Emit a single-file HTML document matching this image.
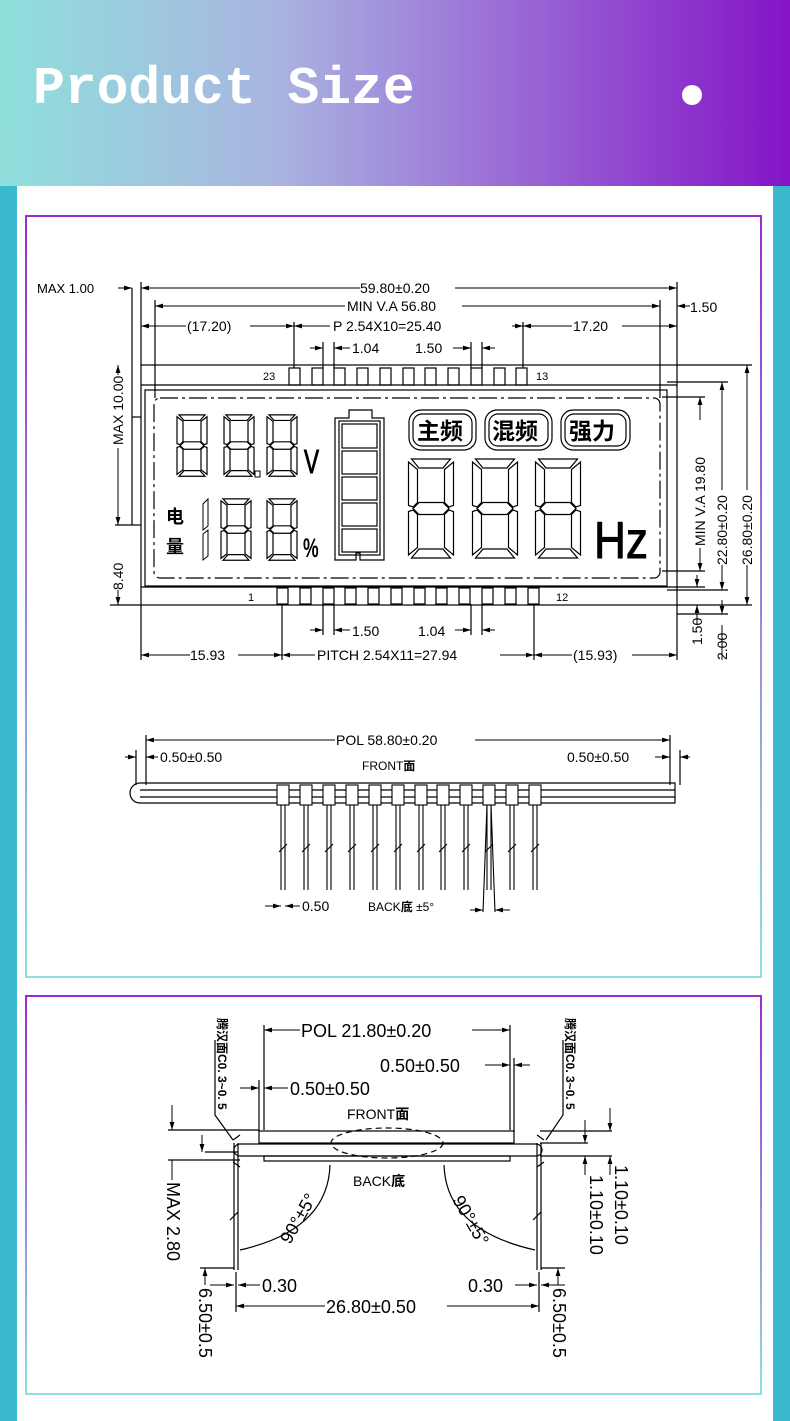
<!DOCTYPE html>
<html><head><meta charset="utf-8"><style>
html,body{margin:0;padding:0;}
body{width:790px;height:1421px;position:relative;background:#fff;overflow:hidden;font-family:"Liberation Sans","Noto Sans CJK SC",sans-serif;}
.hdr{position:absolute;left:0;top:0;width:790px;height:186px;background:linear-gradient(90deg,#8fe0dc 0%,#a9b4e0 35%,#9a6ad6 65%,#8414c6 100%);}
.title{position:absolute;left:33px;top:58px;font-family:"Liberation Mono",monospace;font-weight:bold;font-size:53px;color:#fff;line-height:1.2;}
.dot{position:absolute;left:682px;top:85px;width:20px;height:20px;border-radius:50%;background:#fff;}
.sb{position:absolute;top:186px;width:17px;height:1235px;background:#3ab8cc;}
.panel{position:absolute;left:25px;width:737px;box-sizing:border-box;border:2px solid;border-image:linear-gradient(180deg,#9a2ad2,#8fe0dc) 1;}
svg{position:absolute;left:0;top:0;}
text{font-family:"Liberation Sans","Noto Sans CJK SC",sans-serif;fill:#000;}
</style></head><body>
<div class="hdr"></div>
<div class="title">Product Size</div>
<div class="dot"></div>
<div class="sb" style="left:0"></div>
<div class="sb" style="left:773px"></div>
<div class="panel" style="top:215px;height:763px"></div>
<div class="panel" style="top:995px;height:400px"></div>
<svg width="790" height="1421" viewBox="0 0 790 1421" font-size="14">
<defs>
<g id="dg" fill="none" stroke="#000" stroke-width="1.2">
<polygon vector-effect="non-scaling-stroke" points="7,2 33,2 28,8 12,8"/>
<polygon vector-effect="non-scaling-stroke" points="7,68 33,68 28,62 12,62"/>
<polygon vector-effect="non-scaling-stroke" points="8,35 12,31 28,31 32,35 28,39 12,39"/>
<polygon vector-effect="non-scaling-stroke" points="35,4 35,33 32,34 29,31 29,9"/>
<polygon vector-effect="non-scaling-stroke" points="35,37 35,66 29,61 29,39 32,36"/>
<polygon vector-effect="non-scaling-stroke" points="5,4 11,9 11,31 8,34 5,33"/>
<polygon vector-effect="non-scaling-stroke" points="5,37 8,36 11,39 11,61 5,66"/>
</g>
<marker id="ar" viewBox="0 0 10 6" refX="10" refY="3" markerWidth="8" markerHeight="5" orient="auto-start-reverse"><path d="M0,0 L10,3 L0,6z" fill="#000"/></marker>
</defs>
<g stroke="#000" stroke-width="1.2" fill="none">
<rect x="141" y="365" width="536" height="240"/>
<line x1="141" y1="385" x2="677" y2="385"/>
<line x1="141" y1="587" x2="677" y2="587"/>
<rect x="145" y="390" width="522" height="196"/>
<rect x="154" y="398" width="506" height="180" rx="6" stroke-dasharray="18,4,3,4"/>
<g>
<rect x="289" y="368" width="11" height="17"/><rect x="312" y="368" width="11" height="17"/><rect x="334" y="368" width="11" height="17"/><rect x="357" y="368" width="11" height="17"/><rect x="380" y="368" width="11" height="17"/><rect x="403" y="368" width="11" height="17"/><rect x="425" y="368" width="11" height="17"/><rect x="448" y="368" width="11" height="17"/><rect x="471" y="368" width="11" height="17"/><rect x="494" y="368" width="11" height="17"/><rect x="516" y="368" width="11" height="17"/>
</g>
<g>
<rect x="277" y="588" width="11" height="16"/><rect x="300" y="588" width="11" height="16"/><rect x="323" y="588" width="11" height="16"/><rect x="345" y="588" width="11" height="16"/><rect x="368" y="588" width="11" height="16"/><rect x="391" y="588" width="11" height="16"/><rect x="414" y="588" width="11" height="16"/><rect x="436" y="588" width="11" height="16"/><rect x="459" y="588" width="11" height="16"/><rect x="482" y="588" width="11" height="16"/><rect x="505" y="588" width="11" height="16"/><rect x="528" y="588" width="11" height="16"/>
</g>
<line x1="141" y1="282" x2="141" y2="365"/><line x1="677" y1="282" x2="677" y2="365"/>
<line x1="155" y1="300" x2="155" y2="398"/><line x1="660" y1="300" x2="660" y2="398"/>
<line x1="294" y1="322" x2="294" y2="368"/><line x1="523" y1="322" x2="523" y2="368"/>
<line x1="323" y1="342" x2="323" y2="368"/><line x1="334" y1="342" x2="334" y2="368"/>
<line x1="471" y1="342" x2="471" y2="368"/><line x1="482" y1="342" x2="482" y2="368"/>
<line x1="132" y1="288" x2="132" y2="525"/><line x1="132" y1="525" x2="141" y2="525"/><line x1="132" y1="417" x2="141" y2="417"/>
<line x1="115" y1="525" x2="132" y2="525"/><line x1="110" y1="605" x2="141" y2="605"/>
<line x1="662" y1="397" x2="705" y2="397"/><line x1="662" y1="571" x2="705" y2="571"/>
<line x1="667" y1="382" x2="728" y2="382"/><line x1="667" y1="590" x2="728" y2="590"/>
<line x1="677" y1="365" x2="752" y2="365"/><line x1="677" y1="605" x2="752" y2="605"/>
<line x1="141" y1="605" x2="141" y2="660"/><line x1="677" y1="605" x2="677" y2="660"/>
<line x1="282" y1="604" x2="282" y2="660"/><line x1="534" y1="604" x2="534" y2="660"/>
<line x1="323" y1="604" x2="323" y2="635"/><line x1="334" y1="604" x2="334" y2="635"/>
<line x1="471" y1="604" x2="471" y2="635"/><line x1="482" y1="604" x2="482" y2="635"/>
<line x1="677" y1="587" x2="705" y2="587"/><line x1="677" y1="614" x2="728" y2="614"/>
</g>
<g stroke="#000" stroke-width="1">
<line x1="141" y1="288" x2="360" y2="288" marker-start="url(#ar)"/><line x1="455" y1="288" x2="677" y2="288" marker-end="url(#ar)"/>
<line x1="155" y1="306" x2="345" y2="306" marker-start="url(#ar)"/><line x1="462" y1="306" x2="660" y2="306" marker-end="url(#ar)"/>
<line x1="141" y1="326" x2="186" y2="326" marker-start="url(#ar)"/><line x1="250" y1="326" x2="294" y2="326" marker-end="url(#ar)"/>
<line x1="294" y1="326" x2="330" y2="326" marker-start="url(#ar)"/><line x1="512" y1="326" x2="523" y2="326" marker-end="url(#ar)"/>
<line x1="523" y1="326" x2="572" y2="326" marker-start="url(#ar)"/><line x1="622" y1="326" x2="677" y2="326" marker-end="url(#ar)"/>
<line x1="310" y1="348" x2="323" y2="348" marker-end="url(#ar)"/><line x1="334" y1="348" x2="350" y2="348" marker-start="url(#ar)"/>
<line x1="453" y1="348" x2="471" y2="348" marker-end="url(#ar)"/><line x1="482" y1="348" x2="495" y2="348" marker-start="url(#ar)"/>
<line x1="118" y1="288" x2="132" y2="288" marker-end="url(#ar)"/>
<line x1="690" y1="306" x2="677" y2="306" marker-end="url(#ar)"/>
<line x1="118" y1="365" x2="118" y2="375" marker-start="url(#ar)"/><line x1="118" y1="448" x2="118" y2="525" marker-end="url(#ar)"/><line x1="118" y1="590" x2="118" y2="605" marker-end="url(#ar)"/>
<line x1="700" y1="397" x2="700" y2="420" marker-start="url(#ar)"/><line x1="700" y1="548" x2="700" y2="571" marker-end="url(#ar)"/>
<line x1="722" y1="382" x2="722" y2="490" marker-start="url(#ar)"/><line x1="722" y1="565" x2="722" y2="590" marker-end="url(#ar)"/>
<line x1="747" y1="365" x2="747" y2="490" marker-start="url(#ar)"/><line x1="747" y1="565" x2="747" y2="605" marker-end="url(#ar)"/>
<line x1="697" y1="575" x2="697" y2="587" marker-end="url(#ar)"/><line x1="697" y1="625" x2="697" y2="605" marker-end="url(#ar)"/>
<line x1="722" y1="600" x2="722" y2="614" marker-end="url(#ar)"/><line x1="722" y1="625" x2="722" y2="660"/>
<line x1="310" y1="630" x2="323" y2="630" marker-end="url(#ar)"/><line x1="334" y1="630" x2="350" y2="630" marker-start="url(#ar)"/>
<line x1="455" y1="630" x2="471" y2="630" marker-end="url(#ar)"/><line x1="482" y1="630" x2="495" y2="630" marker-start="url(#ar)"/>
<line x1="141" y1="655" x2="190" y2="655" marker-start="url(#ar)"/><line x1="238" y1="655" x2="282" y2="655" marker-end="url(#ar)"/>
<line x1="282" y1="655" x2="315" y2="655" marker-start="url(#ar)"/><line x1="500" y1="655" x2="534" y2="655" marker-end="url(#ar)"/>
<line x1="534" y1="655" x2="572" y2="655" marker-start="url(#ar)"/><line x1="632" y1="655" x2="677" y2="655" marker-end="url(#ar)"/>
</g>
<g>
<text x="37" y="293" font-size="13">MAX  1.00</text>
<text x="360" y="293">59.80±0.20</text>
<text x="347" y="311">MIN  V.A  56.80</text>
<text x="690" y="312">1.50</text>
<text x="187" y="331">(17.20)</text>
<text x="333" y="331">P  2.54X10=25.40</text>
<text x="573" y="331">17.20</text>
<text x="352" y="353">1.04</text>
<text x="415" y="353">1.50</text>
<text x="263" y="380" font-size="11">23</text><text x="536" y="380" font-size="11">13</text>
<text x="248" y="601" font-size="11">1</text><text x="556" y="601" font-size="11">12</text>
<text x="352" y="636">1.50</text><text x="418" y="636">1.04</text>
<text x="190" y="660">15.93</text><text x="317" y="660">PITCH  2.54X11=27.94</text><text x="573" y="660">(15.93)</text>
<text transform="translate(123,445) rotate(-90)">MAX  10.00</text>
<text transform="translate(123,590) rotate(-90)">8.40</text>
<text transform="translate(705,546) rotate(-90)">MIN  V.A  19.80</text>
<text transform="translate(727,565) rotate(-90)">22.80±0.20</text>
<text transform="translate(752,565) rotate(-90)">26.80±0.20</text>
<text transform="translate(702,645) rotate(-90)">1.50</text>
<text transform="translate(727,660) rotate(-90)">2.00</text>
</g>
<use href="#dg" transform="translate(172,413) scale(1,0.93)"/>
<use href="#dg" transform="translate(219,413) scale(1,0.93)"/>
<use href="#dg" transform="translate(262,413) scale(1,0.93)"/>
<rect x="255" y="471" width="5" height="6" fill="none" stroke="#000"/>
<text transform="translate(304,473) scale(0.75,1.1)" font-size="30" fill="#fff" stroke="#000" stroke-width="0.9">V</text>
<use href="#dg" transform="translate(216,497) scale(1,0.93)"/>
<use href="#dg" transform="translate(262,497) scale(1,0.93)"/>
<polygon points="203,504 208,499 208,526 203,530" fill="none" stroke="#000"/>
<polygon points="203,534 208,530 208,556 203,560" fill="none" stroke="#000"/>
<text x="166" y="523" font-size="18" font-weight="bold">电</text>
<text x="166" y="553" font-size="18" font-weight="bold">量</text>
<text transform="translate(303,557) scale(0.8,1.2)" font-size="22" font-weight="bold">%</text>
<g fill="none" stroke="#000" stroke-width="1.2">
<path d="M335,560 V418 H349 V410 H372 V418 H384 V560 H360 V553 H356 V560 Z"/>
<rect x="339" y="421" width="41" height="134"/>
<rect x="342" y="424" width="35" height="24"/><rect x="342" y="451" width="35" height="23"/><rect x="342" y="477" width="35" height="23"/><rect x="342" y="503" width="35" height="23"/><rect x="342" y="529" width="35" height="23"/>
<rect x="409" y="410" width="67" height="40" rx="12"/><rect x="413" y="414" width="59" height="32" rx="9"/>
<rect x="485" y="410" width="67" height="40" rx="12"/><rect x="489" y="414" width="59" height="32" rx="9"/>
<rect x="561" y="410" width="69" height="40" rx="12"/><rect x="565" y="414" width="61" height="32" rx="9"/>
</g>
<text x="417" y="439" font-size="23" font-weight="bold">主频</text>
<text x="492" y="439" font-size="23" font-weight="bold">混频</text>
<text x="569" y="439" font-size="23" font-weight="bold">强力</text>
<use href="#dg" transform="translate(401,456) scale(1.5,1.5)"/>
<use href="#dg" transform="translate(465,456) scale(1.5,1.5)"/>
<use href="#dg" transform="translate(528,456) scale(1.5,1.5)"/>
<text transform="translate(594,558) scale(0.85,1)" font-size="52" fill="#fff" stroke="#000" stroke-width="1">Hz</text>

<g stroke="#000" stroke-width="1.2" fill="none">
<line x1="146" y1="735" x2="146" y2="785"/><line x1="670" y1="735" x2="670" y2="785"/>
<line x1="136" y1="750" x2="136" y2="785"/><line x1="680" y1="750" x2="680" y2="785"/>
<path d="M140,783 H675 V803 H140 A10,10 0 0 1 140,783 Z"/>
<line x1="140" y1="790" x2="675" y2="790"/><line x1="140" y1="797" x2="675" y2="797"/>
</g>
<g stroke="#000" stroke-width="1.1" fill="#fff">
<g id="sp"><rect x="277" y="785" width="12" height="20"/><line x1="281" y1="805" x2="281" y2="890"/><line x1="285" y1="805" x2="285" y2="890"/><line x1="279" y1="852" x2="287" y2="844"/></g>
<use href="#sp" x="23"/><use href="#sp" x="46"/><use href="#sp" x="69"/><use href="#sp" x="92"/><use href="#sp" x="115"/><use href="#sp" x="138"/><use href="#sp" x="160"/><use href="#sp" x="183"/><use href="#sp" x="206"/><use href="#sp" x="229"/><use href="#sp" x="252"/>
<line x1="487" y1="805" x2="483" y2="912"/><line x1="491" y1="805" x2="495" y2="912"/>
</g>
<g stroke="#000" stroke-width="1">
<line x1="146" y1="740" x2="335" y2="740" marker-start="url(#ar)"/><line x1="475" y1="740" x2="670" y2="740" marker-end="url(#ar)"/>
<line x1="125" y1="757" x2="136" y2="757" marker-end="url(#ar)"/><line x1="158" y1="757" x2="146" y2="757" marker-end="url(#ar)"/>
<line x1="655" y1="757" x2="670" y2="757" marker-end="url(#ar)"/><line x1="690" y1="757" x2="680" y2="757" marker-end="url(#ar)"/>
<line x1="265" y1="906" x2="281" y2="906" marker-end="url(#ar)"/><line x1="300" y1="906" x2="285" y2="906" marker-end="url(#ar)"/>
<line x1="470" y1="910" x2="483" y2="910" marker-end="url(#ar)"/><line x1="510" y1="910" x2="495" y2="910" marker-end="url(#ar)"/>
</g>
<text x="336" y="745">POL  58.80±0.20</text>
<text x="160" y="762">0.50±0.50</text>
<text x="567" y="762">0.50±0.50</text>
<text x="362" y="770" font-size="12">FRONT<tspan font-weight="bold">面</tspan></text>
<text x="302" y="911">0.50</text>
<text x="368" y="911" font-size="12">BACK<tspan font-weight="bold">底</tspan>  ±5°</text>

<g stroke="#000" stroke-width="1.2" fill="none">
<line x1="264" y1="1025" x2="264" y2="1130"/><line x1="510" y1="1025" x2="510" y2="1130"/>
<line x1="259" y1="1080" x2="259" y2="1132"/><line x1="514" y1="1058" x2="514" y2="1132"/>
<rect x="259" y="1131" width="255" height="12"/>
<path d="M240,1144 H536 A6,6 0 0 1 536,1156 H240 A6,6 0 0 1 240,1144 Z"/>
<rect x="264" y="1156" width="246" height="5"/>
<ellipse cx="387" cy="1143" rx="56" ry="15" stroke-dasharray="6,4"/>
<line x1="234" y1="1143" x2="234" y2="1270"/><line x1="238" y1="1143" x2="238" y2="1270"/>
<line x1="537" y1="1143" x2="537" y2="1270"/><line x1="541" y1="1143" x2="541" y2="1270"/>
<path d="M233,1140 l7,-5 M233,1162 l7,5 M544,1140 l-7,-5 M544,1162 l-7,5"/>
<path d="M215,1040 V1115 L233,1140 M563,1040 V1115 L546,1140"/>
<path d="M168,1130 H259 M205,1152 H238 M168,1160 H240 M540,1131 H612 M540,1143 H588 M540,1156 H612"/>
<path d="M330,1165 Q328,1230 240,1250 M444,1165 Q446,1230 535,1250"/>
<line x1="230" y1="1220" x2="238" y2="1212"/><line x1="533" y1="1220" x2="541" y2="1212"/>
<line x1="200" y1="1268" x2="234" y2="1268"/><line x1="541" y1="1268" x2="565" y2="1268"/>
<line x1="236" y1="1272" x2="236" y2="1312"/><line x1="539" y1="1272" x2="539" y2="1312"/>
</g>
<g stroke="#000" stroke-width="1">
<line x1="264" y1="1030" x2="300" y2="1030" marker-start="url(#ar)"/><line x1="472" y1="1030" x2="510" y2="1030" marker-end="url(#ar)"/>
<line x1="485" y1="1065" x2="510" y2="1065" marker-end="url(#ar)"/><line x1="530" y1="1065" x2="514" y2="1065" marker-end="url(#ar)"/>
<line x1="240" y1="1088" x2="259" y2="1088" marker-end="url(#ar)"/><line x1="288" y1="1088" x2="264" y2="1088" marker-end="url(#ar)"/>
<line x1="172" y1="1105" x2="172" y2="1130" marker-end="url(#ar)"/><line x1="202" y1="1135" x2="202" y2="1152" marker-end="url(#ar)"/>
<line x1="172" y1="1160" x2="172" y2="1180"/>
<line x1="610" y1="1108" x2="610" y2="1131" marker-end="url(#ar)"/><line x1="610" y1="1175" x2="610" y2="1156" marker-end="url(#ar)"/>
<line x1="585" y1="1120" x2="585" y2="1143" marker-end="url(#ar)"/><line x1="585" y1="1175" x2="585" y2="1156" marker-end="url(#ar)"/>
<line x1="205" y1="1285" x2="205" y2="1268" marker-end="url(#ar)"/><line x1="558" y1="1285" x2="558" y2="1268" marker-end="url(#ar)"/>
<line x1="210" y1="1285" x2="234" y2="1285" marker-end="url(#ar)"/><line x1="260" y1="1285" x2="238" y2="1285" marker-end="url(#ar)"/>
<line x1="515" y1="1285" x2="537" y2="1285" marker-end="url(#ar)"/><line x1="565" y1="1285" x2="541" y2="1285" marker-end="url(#ar)"/>
<line x1="236" y1="1306" x2="325" y2="1306" marker-start="url(#ar)"/><line x1="447" y1="1306" x2="539" y2="1306" marker-end="url(#ar)"/>
</g>
<text x="301" y="1037" font-size="18">POL  21.80±0.20</text>
<text x="380" y="1072" font-size="18">0.50±0.50</text>
<text x="290" y="1095" font-size="18">0.50±0.50</text>
<text x="347" y="1119" font-size="14">FRONT<tspan font-weight="bold">面</tspan></text>
<text x="353" y="1186" font-size="14">BACK<tspan font-weight="bold">底</tspan></text>
<text x="262" y="1292" font-size="18">0.30</text>
<text x="468" y="1292" font-size="18">0.30</text>
<text x="326" y="1313" font-size="18">26.80±0.50</text>
<text transform="translate(218,1018) rotate(90)" font-size="12" font-weight="bold">腾汉面C0. 3~0. 5</text>
<text transform="translate(566,1018) rotate(90)" font-size="12" font-weight="bold">腾汉面C0. 3~0. 5</text>
<text transform="translate(167,1182) rotate(90)" font-size="18">MAX  2.80</text>
<text transform="translate(615,1165) rotate(90)" font-size="18">1.10±0.10</text>
<text transform="translate(590,1175) rotate(90)" font-size="18">1.10±0.10</text>
<text transform="translate(199,1288) rotate(90)" font-size="18">6.50±0.5</text>
<text transform="translate(553,1288) rotate(90)" font-size="18">6.50±0.5</text>
<text transform="translate(290,1245) rotate(-60)" font-size="18">90°±5°</text>
<text transform="translate(452,1200) rotate(60)" font-size="18">90°±5°</text>
</svg>
</body></html>
